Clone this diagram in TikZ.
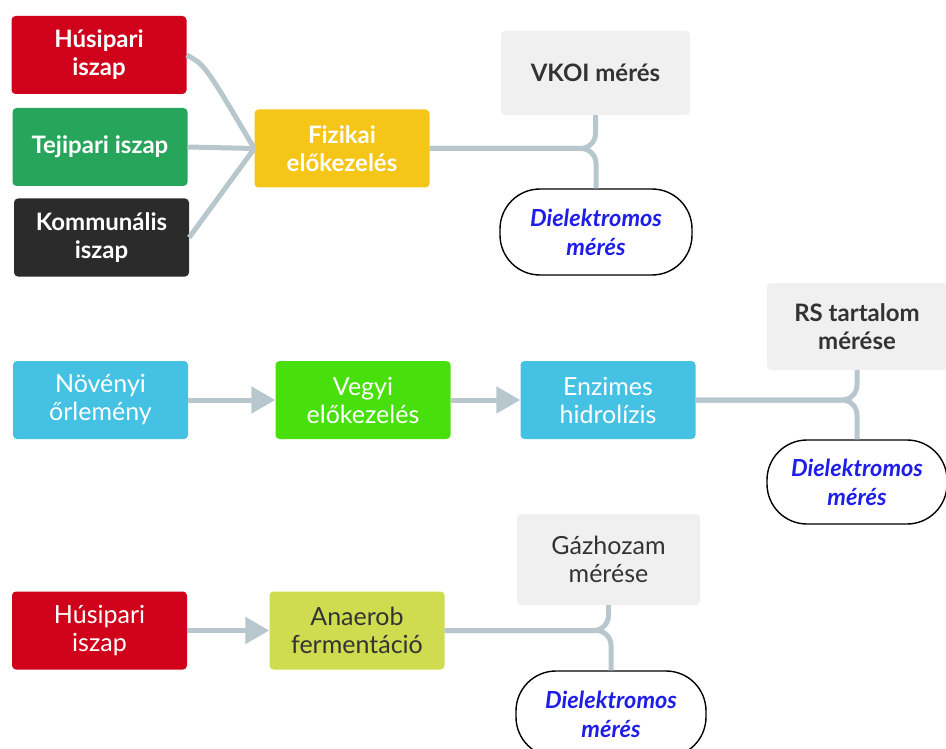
\documentclass[tikz,border=0pt]{standalone}
\usepackage{fontspec}
\setmainfont{Lato}
\usetikzlibrary{arrows.meta}
\definecolor{cred}{HTML}{D0021B}
\definecolor{cgreen}{HTML}{27A55B}
\definecolor{cdark}{HTML}{2B2B2B}
\definecolor{cyellow}{HTML}{F5C518}
\definecolor{cgray}{HTML}{F0F0F0}
\definecolor{ccyan}{HTML}{45C1E4}
\definecolor{cbright}{HTML}{48E00C}
\definecolor{colive}{HTML}{CFDC4F}
\definecolor{cconn}{HTML}{B8C7CD}
\definecolor{ctext}{HTML}{333333}
\definecolor{cblue}{HTML}{1E1EE8}
\tikzset{
  box/.style={rectangle, rounded corners=4pt, inner sep=0pt, align=center,
    minimum width=175pt, minimum height=78pt, text=white,
    font=\fontsize{25}{28}\selectfont},
  boldbox/.style={box, font=\fontsize{24}{28}\selectfont\bfseries},
  graybox/.style={box, fill=cgray, text=ctext},
  stadium/.style={rectangle, rounded corners=40pt, draw=black, line width=1.4pt,
    fill=white, inner sep=0pt, align=center, text=cblue,
    font=\fontsize{23.5}{29}\selectfont\bfseries\itshape},
  conn/.style={draw=cconn, line width=5pt},
  brace/.style={conn, rounded corners=15pt},
  arr/.style={conn, -{Triangle[length=24pt,width=26pt]}},
}
\begin{document}
\begin{tikzpicture}[x=1pt,y=-1pt]
\useasboundingbox (0,0) rectangle (946,749);
% row 1
\node[boldbox, fill=cred]   (hus1) at (99,55)  {Húsipari\\iszap};
\node[boldbox, fill=cgreen] (tej)  at (100,147) {Tejipari iszap};
\node[boldbox, fill=cdark]  (kom)  at (101.5,237.5) {Kommunális\\iszap};
\node[boldbox, fill=cyellow] (fiz) at (342,148.5) {Fizikai\\előkezelés};
\node[boldbox, fill=cgray, text=ctext, minimum width=189pt, minimum height=84pt] (vkoi) at (595.5,73) {VKOI mérés};
\node[stadium, minimum width=192pt, minimum height=86pt] (d1) at (596,232) {Dielektromos\\mérés};
% row 2
\node[box, fill=ccyan]   (nov) at (100.5,400) {Növényi\\őrlemény};
\node[box, fill=cbright] (veg) at (363,400) {Vegyi\\előkezelés};
\node[box, fill=ccyan]   (enz) at (608,400) {Enzimes\\hidrolízis};
\node[boldbox, fill=cgray, text=ctext, minimum width=180pt, minimum height=87pt] (rs) at (857,326.5) {RS tartalom\\mérése};
\node[stadium, minimum width=180pt, minimum height=84pt] (d2) at (857,482) {Dielektromos\\mérés};
% row 3
\node[box, fill=cred]  (hus3) at (99.5,630.5) {Húsipari\\iszap};
\node[box, fill=colive, text=ctext] (ana) at (357,630.5) {Anaerob\\fermentáció};
\node[graybox, minimum width=183pt, minimum height=91pt] (gaz) at (608.5,559.5) {Gázhozam\\mérése};
\node[stadium, minimum width=190pt, minimum height=86pt] (d3) at (611,714) {Dielektromos\\mérés};
% connectors row 1
\draw[conn] (hus1.east) .. controls (205,65) .. (fiz.west);
\draw[conn] (tej.east) -- (fiz.west);
\draw[conn] (kom.east) -- (fiz.west);
\draw[brace] (fiz.east) -| (vkoi.south);
\draw[brace] (fiz.east) -| (d1.north);
% row 2
\draw[arr] (nov.east) -- (veg.west);
\draw[arr] (veg.east) -- (enz.west);
\draw[brace] (enz.east) -| (rs.south);
\draw[brace] (enz.east) -| (d2.north);
% row 3
\draw[arr] (hus3.east) -- (ana.west);
\draw[brace] (ana.east) -| (gaz.south);
\draw[brace] (ana.east) -| (d3.north);
\end{tikzpicture}
\end{document}
